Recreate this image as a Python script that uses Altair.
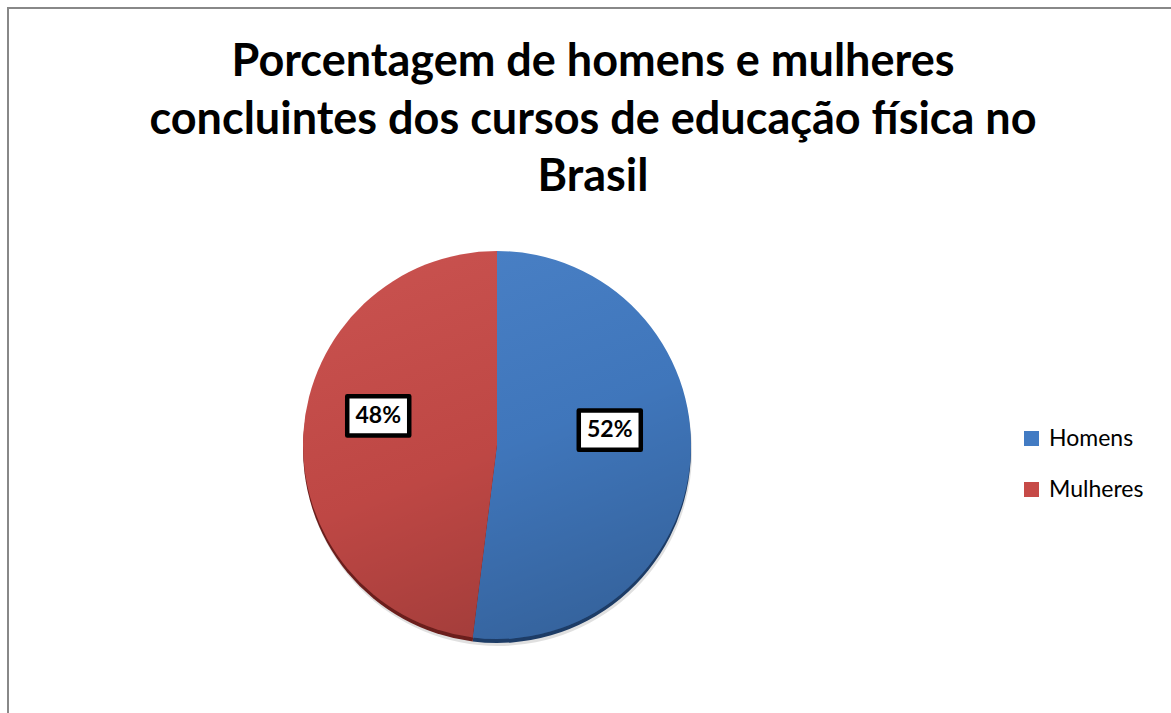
import altair as alt
import pandas as pd

# ---- data ----
categorias = ["Homens", "Mulheres"]
percentuais = [52, 48]
rotulos = ["52%", "48%"]
titulo = [
    "Porcentagem de homens e mulheres",
    "concluintes dos cursos de educação física no",
    "Brasil",
]

df = pd.DataFrame({"Sexo": categorias, "Pct": percentuais, "Rotulo": rotulos})

W, H = 1171, 713
CX, CY, R = 497, 445, 194
FONT = "Lato"

base = alt.Chart(df)

# border (top and left lines visible)
border = alt.Chart(pd.DataFrame({"a": [0]})).mark_rect(
    fill="white", stroke="#888888", strokeWidth=2
).encode(x=alt.value(8), x2=alt.value(W + 10), y=alt.value(8), y2=alt.value(H + 10))

# soft shadow under the pie
shadow = alt.Chart(pd.DataFrame({"a": [0]})).mark_arc(
    theta=0, theta2=6.2832, outerRadius=R, fill="#000000", opacity=0.12
).encode(x=alt.value(CX + 1), y=alt.value(CY + 7))

# dark 3D rim
rim = base.mark_arc(outerRadius=R, stroke=None).encode(
    theta=alt.Theta("Pct:Q", stack=True),
    color=alt.Color("Sexo:N", scale=alt.Scale(domain=categorias, range=["#1d3c66", "#6b1e1c"]), legend=None),
    x=alt.value(CX),
    y=alt.value(CY + 4),
)

pie = base.mark_arc(outerRadius=R, stroke=None).encode(
    theta=alt.Theta("Pct:Q", stack=True),
    color=alt.Color(
        "Sexo:N",
        scale=alt.Scale(domain=categorias, range=["#427bc3", "#c64a47"]),
        legend=alt.Legend(
            title=None,
            orient="none",
            legendX=1020,
            legendY=427,
            symbolType="square",
            symbolSize=225,
            symbolStrokeWidth=0,
            labelFontSize=23,
            labelFont=FONT,
            labelColor="#000000",
            labelOffset=6,
            rowPadding=27,
        ),
    ),
    x=alt.value(CX),
    y=alt.value(CY),
)

grad = alt.Chart(pd.DataFrame({"a": [0]})).mark_arc(
    theta=0,
    theta2=6.2832,
    outerRadius=R,
    fill=alt.LinearGradient(
        gradient="linear",
        stops=[
            alt.GradientStop(color="rgba(255,255,255,0.04)", offset=0),
            alt.GradientStop(color="rgba(0,0,0,0.04)", offset=0.5),
            alt.GradientStop(color="rgba(0,0,0,0.2)", offset=1),
        ],
        x1=0.3, y1=0, x2=0.7, y2=1,
    ),
).encode(x=alt.value(CX), y=alt.value(CY))

lab = base.transform_window(
    cum="sum(Pct)", frame=[None, 0]
).transform_calculate(
    ang="(datum.cum - datum.Pct/2) / 100 * 2 * PI",
).transform_calculate(
    lx=f"{CX} + 116 * sin(datum.ang) - 3",
    ly=f"{CY} - 113 * cos(datum.ang) - 22",
)

boxes = lab.mark_point(
    shape="M-1,-0.63L1,-0.63L1,0.63L-1,0.63Z",
    size=3844,
    filled=True,
    fill="white",
    stroke="black",
    strokeWidth=4.5,
    opacity=1,
    strokeJoin="round",
).encode(x=alt.X("lx:Q", scale=None), y=alt.Y("ly:Q", scale=None))

texts = lab.mark_text(
    font=FONT, fontSize=23, fontWeight="bold", color="black", baseline="middle", align="center"
).encode(x=alt.X("lx:Q", scale=None), y=alt.Y("ly:Q", scale=None), text="Rotulo:N")

one = pd.DataFrame({"a": [0]})
title_layers = []
for i, (line, yb) in enumerate(zip(titulo, [76, 134, 191])):
    title_layers.append(
        alt.Chart(one).mark_text(
            text=line, font=FONT, fontSize=45, fontWeight="bold", color="black",
            align="center", baseline="alphabetic",
        ).encode(x=alt.value(593), y=alt.value(yb))
    )

chart = alt.layer(
    border, shadow, rim, pie, grad, boxes, texts, *title_layers
).resolve_scale(color="independent").properties(
    width=W, height=H, autosize=alt.AutoSizeParams(type="none"), padding=0, background="white"
).configure_view(stroke=None)

chart.save("out.html", embed_options={"renderer": "svg", "actions": False})
